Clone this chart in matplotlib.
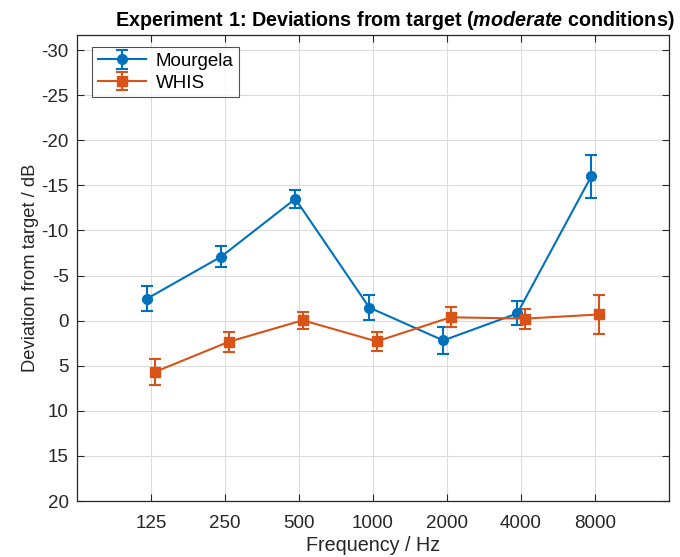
import numpy as np
import matplotlib.pyplot as plt

plt.rcParams['font.family'] = ['Liberation Sans', 'DejaVu Sans']
plt.rcParams['mathtext.fontset'] = 'custom'
plt.rcParams['mathtext.bfit'] = 'Liberation Sans:italic:bold'
plt.rcParams['mathtext.it'] = 'Liberation Sans:italic'
plt.rcParams['mathtext.rm'] = 'Liberation Sans'
plt.rcParams['axes.unicode_minus'] = False

freqs = ['125', '250', '500', '1000', '2000', '4000', '8000']

mourgela = [-2.45, -7.1, -13.5, -1.45, 2.2, -0.8, -16.0]
mourgela_err = [1.38, 1.2, 1.0, 1.34, 1.53, 1.32, 2.4]

whis = [5.7, 2.35, -0.04, 2.3, -0.37, -0.22, -0.68]
whis_err = [1.48, 1.1, 0.92, 1.07, 1.1, 1.1, 2.2]

blue = '#0072BD'
orange = '#D95319'
frame = '#262626'

x = np.arange(1, len(freqs) + 1)

fig = plt.figure(figsize=(6.8, 5.57), dpi=100)
ax = fig.add_axes([0.1132, 0.1005, 0.8706, 0.8366])

ax.errorbar(x - 0.05, mourgela, yerr=mourgela_err, color=blue, marker='o',
            markersize=7, lw=1.5, capsize=4, capthick=1.5, label='Mourgela', zorder=3)
ax.errorbar(x + 0.05, whis, yerr=whis_err, color=orange, marker='s',
            markersize=7, lw=1.5, capsize=4, capthick=1.5, label='WHIS', zorder=3)

ax.set_xlim(0, 8)
ax.set_ylim(20, -31.66)
ax.set_xticks(x)
ax.set_xticklabels(freqs)
ax.set_yticks(np.arange(-30, 21, 5))

ax.grid(True, color='#dcdcdc', lw=0.8)
ax.set_axisbelow(True)
ax.tick_params(direction='in', top=True, right=True, labelsize=13.5,
               colors=frame, length=5, width=0.8, pad=6)
ax.tick_params(axis='x', pad=10)
for s in ax.spines.values():
    s.set_color(frame)
    s.set_linewidth(0.9)

ax.set_xlabel('Frequency / Hz', fontsize=14.2, color=frame, labelpad=3)
ax.set_ylabel('Deviation from target / dB', fontsize=13.2, color=frame, labelpad=1.5)
fig.text(395 / 680, 1 - 20 / 557,
         r'Experiment 1: Deviations from target ($\mathbfit{moderate}$ conditions)',
         fontsize=14.2, fontweight='bold', ha='center', va='center')

leg = ax.legend(loc='upper left', fontsize=13.5, frameon=True, fancybox=False,
                edgecolor=frame, borderpad=0.3, handlelength=2.6,
                labelspacing=0.25, handletextpad=0.5, borderaxespad=0,
                bbox_to_anchor=(15 / 592, 1 - 12 / 466))
leg.get_frame().set_linewidth(0.8)

plt.savefig('out.png', dpi=100)
